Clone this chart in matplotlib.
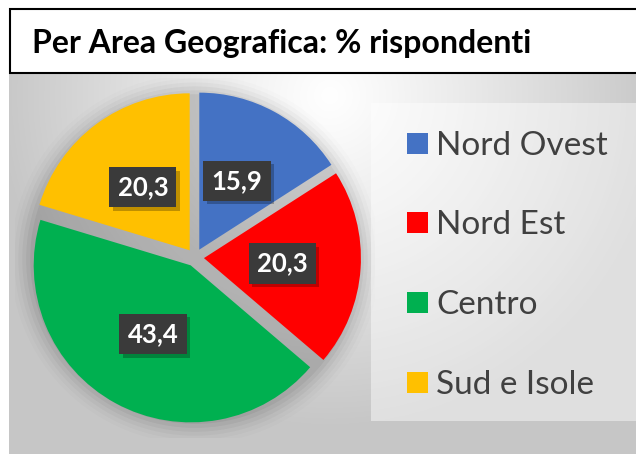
import numpy as np
import matplotlib
matplotlib.use("Agg")
import matplotlib.pyplot as plt
from matplotlib.patches import Rectangle, Circle
import matplotlib.patheffects as pe

title = "Per Area Geografica: % rispondenti"
categories = ["Nord Ovest", "Nord Est", "Centro", "Sud e Isole"]
values = [15.9, 20.3, 43.4, 20.3]
colors = ["#4472C4", "#FF0000", "#00B050", "#FFC000"]

W, H = 636, 454
fig = plt.figure(figsize=(W / 100, H / 100), dpi=100)
fig.patch.set_facecolor("white")

def fx(px):
    return px / W

def fy(py):
    return 1 - py / H

# background gradient panel
bg_ax = fig.add_axes([fx(9), 0, 1 - fx(9), fy(73)])
bg_ax.set_axis_off()
gx = np.linspace(9, W, 400)
gy = np.linspace(73, H, 300)
GX, GY = np.meshgrid(gx, gy)
d = np.sqrt(((GX - 330) / 330) ** 2 + ((GY - 95) / 330) ** 2)
t = np.clip(d, 0, 1) ** 1.1
c_in = np.array([1.0, 1.0, 1.0])
c_out = np.array([0.78, 0.78, 0.78])
img = c_in[None, None, :] * (1 - t[..., None]) + c_out[None, None, :] * t[..., None]
bg_ax.imshow(img, extent=[0, 1, 0, 1], aspect="auto", origin="upper")
bg_ax.set_xlim(0, 1)
bg_ax.set_ylim(0, 1)

# title box
tb = Rectangle((fx(10), fy(73)), 1.0, fy(9) - fy(73), transform=fig.transFigure,
               facecolor="white", edgecolor="black", linewidth=1.5, zorder=5)
fig.patches.append(tb)
fig.text(fx(32), fy(43), title, fontsize=23, fontweight="bold", family="Lato",
         va="center", ha="left", color="black", zorder=6)

# legend box
lb = Rectangle((fx(371), fy(421)), 1.0, fy(103) - fy(421), transform=fig.transFigure,
               facecolor="white", alpha=0.45, edgecolor="none", zorder=2)
fig.patches.append(lb)

# pie
cx, cy, r = 195, 257.5, 157
half = 180
ax = fig.add_axes([fx(cx - half), fy(cy + half), 2 * half / W, 2 * half / H])
ax.set_axis_off()

# soft shadow behind pie
for k, a in enumerate(np.linspace(0.05, 0.01, 6)):
    ax.add_patch(Circle((0.0, -0.01), 1.05 + 0.025 * k, facecolor="black", alpha=a,
                        edgecolor="none", zorder=0))

def fmt(p):
    return f"{p * sum(values) / 100:.1f}".replace(".", ",")

wedges, texts, autotexts = ax.pie(
    values, colors=colors, startangle=90, counterclock=False,
    explode=[0.057] * len(values), radius=1.0, autopct=fmt, pctdistance=0.5,
    wedgeprops=dict(linewidth=0), textprops=dict(zorder=5))

lim = half / r
ax.set_xlim(-lim, lim)
ax.set_ylim(-lim, lim)
ax.set_aspect("equal")

for at in autotexts:
    at.set_color("white")
    at.set_fontweight("bold")
    at.set_fontsize(18.5)
    at.set_family("Lato")
    at.set_bbox(dict(boxstyle="square,pad=0.32", facecolor="#3a3a3a", edgecolor="none"))
    at.get_bbox_patch().set_path_effects([
        pe.SimplePatchShadow(offset=(2.5, -2.5), shadow_rgbFace="black", alpha=0.25),
        pe.Normal()])

# legend (manual)
row_y = [143, 222, 302, 382]
for name, col, yy in zip(categories, colors, row_y):
    fig.patches.append(Rectangle((fx(407), fy(yy + 10.5)), 21 / W, 21 / H,
                                 transform=fig.transFigure, facecolor=col,
                                 edgecolor="none", zorder=6))
    fig.text(fx(436), fy(yy), name, fontsize=24, family="Lato", color="#404040",
             va="center_baseline", ha="left", zorder=6)

fig.savefig("out.png", dpi=100)
